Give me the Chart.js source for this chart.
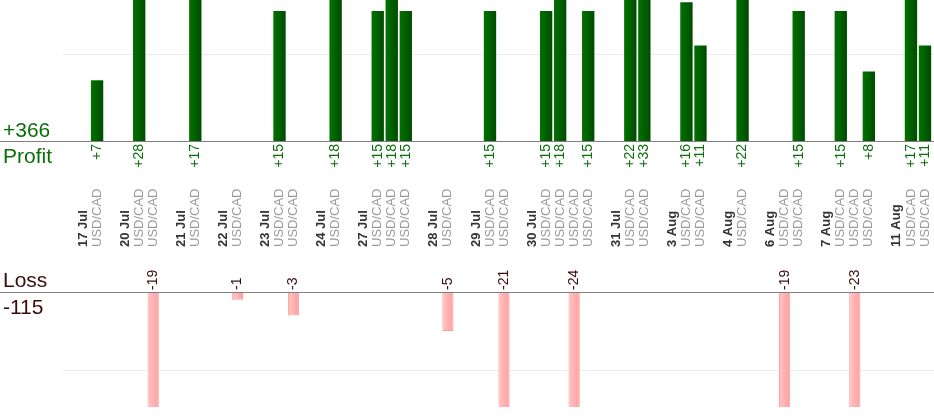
<!DOCTYPE html>
<html>
<head>
<meta charset="utf-8">
<script src="https://cdn.jsdelivr.net/npm/chart.js@4"></script>
<style>
  html, body { margin: 0; padding: 0; background: #ffffff; }
  #wrap { width: 934px; height: 420px; }
  canvas { display: block; }
</style>
</head>
<body>
<div id="wrap"><canvas id="c" width="934" height="420"></canvas></div>
<script>
// ---- data ----
const dates = ['17 Jul','20 Jul','21 Jul','22 Jul','23 Jul','24 Jul','27 Jul','28 Jul',
               '29 Jul','30 Jul','31 Jul','3 Aug','4 Aug','6 Aug','7 Aug','11 Aug'];
const tradesPerDate = [1, 2, 1, 1, 2, 1, 3, 1, 2, 4, 2, 2, 1, 2, 3, 2];
const pair = 'USD/CAD';
const results = [7, 28, -19, 17, -1, 15, -3, 18, 15, 18, 15, -5, 15, -21,
                 15, 18, -24, 15, 22, 33, 16, 11, 22, -19, 15, 15, -23, 8, 17, 11];

// ---- build category slots: gap, date header, trades ----
const labels = [];
const kinds = [];
const profit = [];
const loss = [];
let k = 0;
dates.forEach((d, i) => {
  labels.push(''); kinds.push('gap'); profit.push(null); loss.push(null);
  labels.push(d); kinds.push('date'); profit.push(null); loss.push(null);
  for (let j = 0; j < tradesPerDate[i]; j++) {
    const r = results[k++];
    labels.push(pair); kinds.push('trade');
    profit.push(r > 0 ? r : null);
    loss.push(r < 0 ? r : null);
  }
});
const totalProfit = results.filter(v => v > 0).reduce((a, b) => a + b, 0);
const totalLoss = results.filter(v => v < 0).reduce((a, b) => a + b, 0);

const FONT = '"Liberation Sans", Arial, Helvetica, sans-serif';
const GREEN_TXT = '#0b6e0b';
const LOSS_TXT = '#3d0b0b';

function grad(c1, c2) {
  return (ctx) => {
    const ch = ctx.chart;
    const xs = ch.scales && ch.scales.x;
    if (!xs || ctx.type !== 'data') return c1;
    const x = xs.getPixelForValue(ctx.dataIndex);
    if (!isFinite(x)) return c1;
    const g = ch.ctx.createLinearGradient(x - 6, 0, x + 6, 0);
    g.addColorStop(0, c1);
    g.addColorStop(1, c2);
    return g;
  };
}

function rotText(ctx, txt, x, y, align) {
  ctx.save();
  ctx.translate(x, y);
  ctx.rotate(-Math.PI / 2);
  ctx.textAlign = align;
  ctx.textBaseline = 'middle';
  ctx.fillText(txt, 0, 0);
  ctx.restore();
}

const overlay = {
  id: 'overlay',
  beforeDatasetsDraw(chart) {
    const ctx = chart.ctx, a = chart.chartArea;
    const yP = chart.scales.yP, yL = chart.scales.yL;
    ctx.save();
    ctx.strokeStyle = '#ebebeb';
    ctx.lineWidth = 1;
    [yP.getPixelForValue(10), yL.getPixelForValue(-10)].forEach(y => {
      const yy = Math.round(y) + 0.5;
      ctx.beginPath();
      ctx.moveTo(a.left + 1, yy);
      ctx.lineTo(chart.width, yy);
      ctx.stroke();
    });
    ctx.restore();
  },
  afterDatasetsDraw(chart) {
    const ctx = chart.ctx;
    const xs = chart.scales.x, yP = chart.scales.yP, yL = chart.scales.yL;
    const p0 = Math.round(yP.getPixelForValue(0));
    const l0 = Math.round(yL.getPixelForValue(0));
    ctx.save();
    // baselines
    ctx.strokeStyle = '#808080';
    ctx.lineWidth = 1;
    [p0, l0].forEach(y => {
      ctx.beginPath();
      ctx.moveTo(0, y + 0.5);
      ctx.lineTo(chart.width, y + 0.5);
      ctx.stroke();
    });
    // left summary texts
    ctx.textAlign = 'left';
    ctx.textBaseline = 'alphabetic';
    ctx.font = '21px ' + FONT;
    ctx.fillStyle = GREEN_TXT;
    ctx.fillText('+' + totalProfit, 3, p0 - 4);
    ctx.fillText('Profit', 3, p0 + 22);
    ctx.fillStyle = LOSS_TXT;
    ctx.fillText('Loss', 3, l0 - 5);
    ctx.fillText(String(totalLoss), 3, l0 + 22);
    // value labels and category labels
    labels.forEach((lab, i) => {
      const x = xs.getPixelForValue(i);
      if (kinds[i] === 'date') {
        ctx.font = 'bold 13px ' + FONT;
        ctx.fillStyle = '#333333';
        rotText(ctx, lab, x, 247, 'left');
      } else if (kinds[i] === 'trade') {
        ctx.font = '13px ' + FONT;
        ctx.fillStyle = '#9a9a9a';
        rotText(ctx, lab, x, 247, 'left');
        ctx.font = '14px ' + FONT;
        if (profit[i] !== null) {
          ctx.fillStyle = GREEN_TXT;
          rotText(ctx, '+' + profit[i], x, p0 + 3, 'right');
        }
        if (loss[i] !== null) {
          ctx.fillStyle = LOSS_TXT;
          rotText(ctx, String(loss[i]), x, l0 - 2, 'left');
        }
      }
    });
    ctx.restore();
  }
};

new Chart(document.getElementById('c'), {
  type: 'bar',
  data: {
    labels: labels,
    datasets: [
      {
        label: 'Profit',
        data: profit,
        yAxisID: 'yP',
        grouped: false,
        clip: 0,
        categoryPercentage: 1,
        barPercentage: 0.88,
        borderWidth: 0,
        backgroundColor: grad('#007200', '#004c00')
      },
      {
        label: 'Loss',
        data: loss,
        yAxisID: 'yL',
        grouped: false,
        clip: 0,
        categoryPercentage: 1,
        barPercentage: 0.8,
        borderWidth: 1,
        borderColor: '#ff9c9c',
        backgroundColor: grad('#ffc6c6', '#ff9d9d')
      }
    ]
  },
  options: {
    responsive: false,
    animation: false,
    devicePixelRatio: 1,
    layout: { padding: { left: 62, right: 2, top: 0, bottom: 13 } },
    plugins: { legend: { display: false }, tooltip: { enabled: false } },
    scales: {
      x: { display: false },
      yP: { display: false, min: -30.68, max: 16.26 },
      yL: { display: false, min: -14.74, max: 37.44 }
    }
  },
  plugins: [overlay]
});
</script>
</body>
</html>
